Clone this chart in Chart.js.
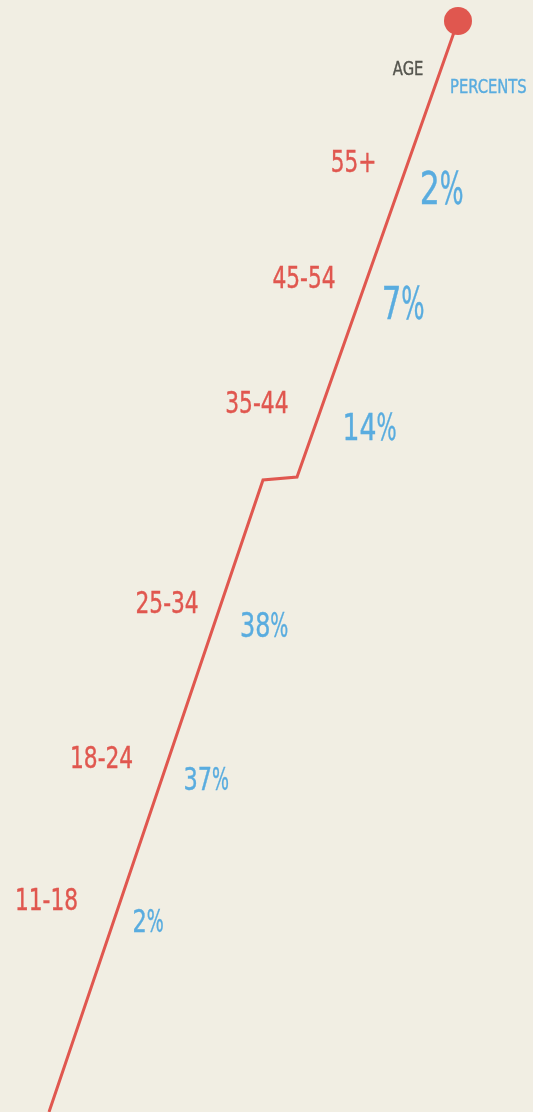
<!DOCTYPE html>
<html>
<head>
<meta charset="utf-8">
<script src="https://cdn.jsdelivr.net/npm/chart.js@4"></script>
<style>
  html, body { margin: 0; padding: 0; background: #f1eee3; overflow: hidden; }
  #wrap { width: 533px; height: 1112px; }
</style>
</head>
<body>
<div id="wrap"><canvas id="ageChart"></canvas></div>
<script>
// data, listed from youngest (bottom) to oldest (top)
const ageGroups = ['11-18', '18-24', '25-34', '35-44', '45-54', '55+'];
const percents  = [2, 37, 38, 14, 7, 2];

// the track the labels sit along (x across, y up from the bottom)
const trackX = [49, 263, 297, 458];
const trackY = [0, 632, 635, 1091];
// where each group's age label baseline sits on the track
const groupLevel = [202, 344, 499, 699, 824, 940];

// label layout: gap between the line and each label, font size of percents
const ageGap = [43, 36, 23, 35, 32, 32];
const pctGap = [15, 18, 22, 23, 18, 15];
const pctSize = [32, 32, 34, 38, 44, 45];

const RED = '#e0574f', BLUE = '#59acdf', GREY = '#55554e';
const FONT = '"DejaVu Sans Condensed", "DejaVu Sans", sans-serif';

function trackXAt(v) {
  for (let i = 1; i < trackY.length; i++) {
    if (v <= trackY[i] || i === trackY.length - 1) {
      const t = (v - trackY[i - 1]) / (trackY[i] - trackY[i - 1]);
      return trackX[i - 1] + t * (trackX[i] - trackX[i - 1]);
    }
  }
}

// draw text squeezed horizontally (the original uses a narrow face)
function drawNarrow(ctx, parts, x, y, align) {
  const w = parts.reduce((s, p) => s + ctx.measureText(p.text).width * p.sx, 0);
  let cx = align === 'right' ? x - w : x;
  ctx.textAlign = 'left';
  ctx.strokeStyle = ctx.fillStyle;
  ctx.lineWidth = 0.4;
  parts.forEach(p => {
    ctx.save();
    ctx.translate(cx, y);
    ctx.scale(p.sx, 1);
    ctx.fillText(p.text, 0, 0);
    ctx.strokeText(p.text, 0, 0);
    ctx.restore();
    cx += ctx.measureText(p.text).width * p.sx;
  });
}

const labelPlugin = {
  id: 'trackLabels',
  afterDatasetsDraw(chart) {
    const { ctx, scales: { x, y } } = chart;
    ctx.save();
    ctx.textBaseline = 'alphabetic';
    ageGroups.forEach((g, i) => {
      // age label, right aligned left of the line
      const base = groupLevel[i];
      const mid = base + 11;
      ctx.font = `31px ${FONT}`;
      ctx.fillStyle = RED;
      drawNarrow(ctx, [{ text: g, sx: 0.78 }],
        x.getPixelForValue(trackXAt(mid)) - ageGap[i], y.getPixelForValue(base), 'right');

      // percent, left aligned right of the line
      const s = pctSize[i];
      const pBase = base - s * 0.7;
      const pTop = pBase + s * 0.7;
      ctx.font = `${s}px ${FONT}`;
      ctx.fillStyle = BLUE;
      drawNarrow(ctx, [{ text: String(percents[i]), sx: 0.78 }, { text: '%', sx: 0.62 }],
        x.getPixelForValue(trackXAt(pTop)) + pctGap[i], y.getPixelForValue(pBase), 'left');
    });

    // column headers near the top of the track
    const hA = trackY.at(-1) - 54, hP = trackY.at(-1) - 72;
    ctx.font = `20px ${FONT}`;
    ctx.fillStyle = GREY;
    drawNarrow(ctx, [{ text: 'AGE', sx: 0.82 }],
      x.getPixelForValue(trackXAt(hA + 7)) - 18, y.getPixelForValue(hA), 'right');
    ctx.fillStyle = BLUE;
    drawNarrow(ctx, [{ text: 'PERCENTS', sx: 0.82 }],
      x.getPixelForValue(trackXAt(hP + 7)) + 15, y.getPixelForValue(hP), 'left');
    ctx.restore();
  }
};

new Chart(document.getElementById('ageChart'), {
  type: 'scatter',
  data: {
    datasets: [{
      data: trackX.map((v, i) => ({ x: v, y: trackY[i] })),
      showLine: true,
      borderColor: RED,
      borderWidth: 3,
      tension: 0,
      pointRadius: trackX.map((v, i) => i === trackX.length - 1 ? 14 : 0),
      pointHoverRadius: 0,
      pointBackgroundColor: RED,
      pointBorderWidth: 0,
      clip: false
    }]
  },
  options: {
    responsive: true,
    maintainAspectRatio: false,
    animation: false,
    layout: { padding: 0, autoPadding: false },
    plugins: { legend: { display: false }, tooltip: { enabled: false } },
    scales: {
      x: { type: 'linear', min: 0, max: 533, display: false },
      y: { type: 'linear', min: 0, max: 1112, display: false }
    }
  },
  plugins: [labelPlugin]
});
</script>
</body>
</html>
